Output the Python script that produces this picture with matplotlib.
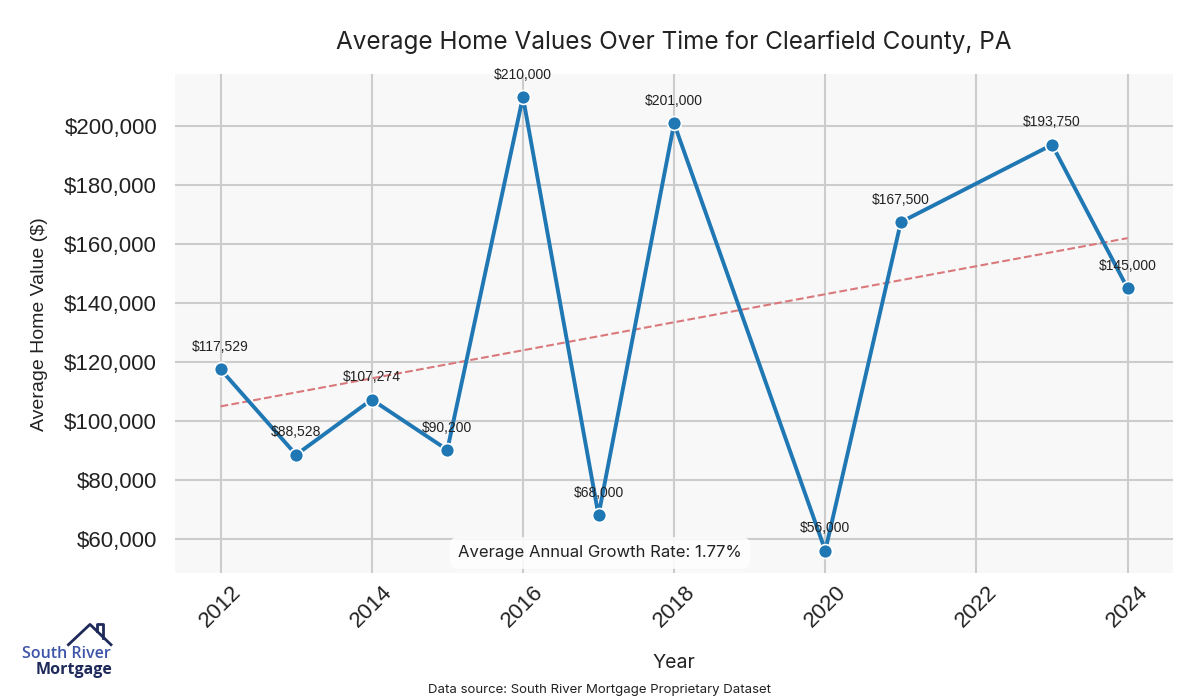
import matplotlib.pyplot as plt
import numpy as np
from matplotlib.lines import Line2D

years = [2012, 2013, 2014, 2015, 2016, 2017, 2018, 2020, 2021, 2023, 2024]
values = [117529, 88528, 107274, 90200, 210000, 68000, 201000, 56000, 167500, 193750, 145000]
x_ticks = [2012, 2014, 2016, 2018, 2020, 2022, 2024]

title_font = "Inter"
plain_font = "Liberation Sans"

fig = plt.figure(figsize=(12, 7), dpi=100)
ax = fig.add_axes([0.146, 0.181, 0.8315, 0.713])
ax.set_facecolor("#f8f8f8")
for s in ax.spines.values():
    s.set_visible(False)
ax.grid(True, color="#cccccc", linewidth=1.5)
ax.set_axisbelow(True)

# trend line from a linear fit
yrs = np.array(years, dtype=float)
vals = np.array(values, dtype=float)
slope, intercept = np.polyfit(yrs, vals, 1)
ax.plot(yrs, slope * yrs + intercept, "--", color="#d9797c", linewidth=1.5, zorder=2)

ax.plot(years, values, "-o", color="#1f77b4", linewidth=2.8, markersize=10,
        markeredgecolor="white", markeredgewidth=1.2, zorder=3)

for yr, v in zip(years, values):
    ax.annotate(f"${v:,.0f}", (yr, v), xytext=(0, 11), textcoords="offset points",
                ha="center", va="bottom", fontsize=10, family=plain_font, color="#222222")

ax.set_xticks(x_ticks)
ax.tick_params(axis="both", length=0, labelsize=16, colors="#222222")
ax.tick_params(axis="x", pad=6)
ax.tick_params(axis="y", pad=13)
plt.setp(ax.get_xticklabels(), rotation=45, family=plain_font)
plt.setp(ax.get_yticklabels(), family=plain_font)
ax.yaxis.set_major_formatter(plt.FuncFormatter(lambda v, p: f"${v:,.0f}"))

ax.set_xlabel("Year", fontsize=14, family=title_font, color="#222222", labelpad=16)
ax.set_ylabel("Average Home Value ($)", fontsize=14, family=plain_font, color="#222222", labelpad=12)
ax.set_title("Average Home Values Over Time for Clearfield County, PA", fontsize=17.5,
             family=title_font, color="#222222", pad=18)

# compound annual growth rate
n_years = years[-1] - years[0]
cagr = ((values[-1] / values[0]) ** (1 / n_years) - 1) * 100
fig.text(0.5, 0.21, f"Average Annual Growth Rate: {cagr:.2f}%", ha="center", va="center",
         fontsize=12, family=title_font, color="#222222",
         bbox=dict(boxstyle="round,pad=0.5", facecolor="white", edgecolor="none", alpha=0.85))

fig.text(0.5, 0.015, "Data source: South River Mortgage Proprietary Dataset", ha="center",
         va="center", fontsize=9.5, family=title_font, color="#222222")

# logo
fig.text(0.0185, 0.066, "South River", fontsize=11.5, family="Open Sans", color="#3d55a8",
         fontweight="semibold", va="center")
fig.text(0.03, 0.043, "Mortgage", fontsize=11.5, family="Open Sans", color="#1e2a5a",
         fontweight="bold", va="center")
fig.add_artist(Line2D([0.057, 0.075, 0.0925], [0.079, 0.108, 0.079], color="#1e2a5a",
                      linewidth=2, transform=fig.transFigure))
fig.add_artist(Line2D([0.081, 0.081, 0.086, 0.086], [0.098, 0.108, 0.108, 0.089],
                      color="#1e2a5a", linewidth=2, transform=fig.transFigure))

fig.savefig("out.png", dpi=100)
